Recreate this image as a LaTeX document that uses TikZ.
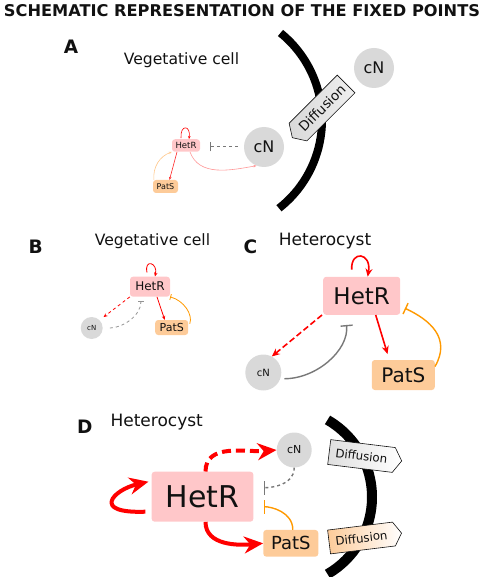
\documentclass[tikz,border=0pt]{standalone}
\usepackage{fontspec}
\setmainfont{DejaVu Sans}
\usetikzlibrary{positioning,arrows.meta,shapes.symbols}
\definecolor{ink}{RGB}{17,17,17}
\definecolor{hetpink}{RGB}{255,199,201}
\definecolor{patorange}{RGB}{253,203,153}
\definecolor{cngray}{RGB}{217,217,217}
\definecolor{actred}{RGB}{255,0,0}
\definecolor{fadered}{RGB}{255,150,150}
\definecolor{inhorange}{RGB}{255,153,0}
\definecolor{fadeorange}{RGB}{255,200,140}
\definecolor{inhgray}{RGB}{120,120,120}
\newcommand{\fsz}[1]{\fontsize{#1}{#1}\selectfont}
\tikzset{
  panel/.style={anchor=base, font=\fsz{18.5}\bfseries, text=ink},
  cellname/.style={anchor=base, text=ink},
  hetbox/.style={fill=hetpink, rounded corners=3pt, inner sep=0pt, text=ink},
  patbox/.style={fill=patorange, rounded corners=3pt, inner sep=0pt, text=ink},
  cnode/.style={circle, fill=cngray, inner sep=0pt, text=ink},
  diffbox/.style={signal, draw=ink, line width=0.6pt, signal pointer angle=115,
                  inner sep=1pt, text=ink},
  membrane/.style={draw=black, line cap=butt},
  actA/.style={-{Stealth[length=3pt,width=2.5pt]}, line width=0.6pt},
  inhA/.style={-{Bar[width=9pt]}, line width=1pt, dashed, draw=inhgray},
  actB/.style={-{Stealth[length=4pt,width=3.5pt]}, line width=0.8pt, draw=actred},
  inhB/.style={-{Bar[width=6pt]}, line width=0.8pt},
  actC/.style={-{Stealth[length=8pt,width=7pt]}, line width=1.6pt, draw=actred},
  inhC/.style={-{Bar[width=12pt]}, line width=1.4pt},
  actD/.style={-{Stealth[length=19pt,width=17pt]}, line width=4pt, draw=actred},
  inhD/.style={-{Bar[width=14pt]}, line width=1.4pt},
}

\begin{document}
\begin{tikzpicture}[x=1pt,y=1pt]
  \useasboundingbox (0,0) rectangle (484,-577);

  \node[anchor=base, font=\fsz{16.2}\bfseries, text=ink] (title) at (242,-16.7)
    {SCHEMATIC REPRESENTATION OF THE FIXED POINTS};

  % panel A: vegetative cell next to the membrane
  \node[panel] (labA) at (71,-54) {A};
  \node[cellname, font=\fsz{15.6}] (vegA) at (181.5,-65) {Vegetative cell};
  \draw[membrane, line width=8pt] (210,-120) ++(51:112) arc[start angle=51, end angle=-52, radius=112];
  \node[diffbox, rotate=45, signal to=west, minimum width=76pt, minimum height=25pt,
        font=\fsz{13.5}, left color=gray!30, right color=gray!12] (difA) at (322,-108) {Diffusion};
  \node[cnode, minimum size=40pt, font=\fsz{16}] (cnAout) at (374,-68) {cN};
  \node[cnode, minimum size=40pt, font=\fsz{16}] (cnA) at (264,-147) {cN};
  \node[hetbox, minimum width=28pt, minimum height=12.5pt, font=\fsz{8.5}] (hetA) at (186,-145.5) {HetR};
  \node[patbox, minimum width=25pt, minimum height=13pt, font=\fsz{8}] (patA) at (165.5,-186.5) {PatS};

  \draw[actA, draw=actred] ([xshift=-5pt,yshift=1pt]hetA.north) .. controls +(-1,14) and +(2,14) .. ([xshift=3pt]hetA.north);
  \draw[actA, draw=actred!85] ([xshift=-9pt]hetA.south) -- ([xshift=4pt]patA.north);
  \draw[actA, draw=fadeorange] (patA.150) to[out=95, in=200] (hetA.south west);
  \draw[actA, draw=fadered] ([xshift=4pt]hetA.south) to[out=-70, in=190] (cnA.-112);
  \draw[inhA, shorten <=6pt, shorten >=10pt] (cnA.west) -- (cnA.west -| hetA.east);

  % panel B: vegetative cell fixed point
  \node[panel] (labB) at (35.7,-253) {B};
  \node[cellname, font=\fsz{15.6}] (vegB) at (152.5,-245.7) {Vegetative cell};
  \node[hetbox, minimum width=40pt, minimum height=20pt, font=\fsz{12}] (hetB) at (150,-286.7) {HetR};
  \node[patbox, minimum width=33pt, minimum height=15pt, font=\fsz{11}] (patB) at (171.7,-327.5) {PatS};
  \node[cnode, minimum size=22pt, font=\fsz{7}] (cnB) at (91.7,-328) {cN};

  \draw[actB] ([shift={(-3pt,4pt)}]hetB.north) .. controls +(-3,14) and +(3,14) .. ([xshift=5pt]hetB.north);
  \draw[actB, dashed, shorten >=5pt] (hetB.south west) -- (cnB.45);
  \draw[actB] ([xshift=7pt]hetB.south) -- ([xshift=-7pt]patB.north);
  \draw[inhB, draw=inhgray!80, dashed, shorten <=7pt, shorten >=4pt] (cnB.east) to[out=0, in=-90] ([xshift=-9pt]hetB.south);
  \draw[inhB, draw=inhorange, shorten <=4pt] (patB.east) to[out=70, in=-15] (hetB.south east);

  % panel C: heterocyst fixed point
  \node[panel] (labC) at (250.5,-253) {C};
  \node[cellname, font=\fsz{17}] (hcyC) at (325,-245.7) {Heterocyst};
  \node[hetbox, minimum width=77pt, minimum height=38pt, font=\fsz{23}] (hetC) at (361.7,-295.8) {HetR};
  \node[cnode, minimum size=36pt, font=\fsz{10}] (cnC) at (263.3,-372.5) {cN};
  \node[patbox, minimum width=63pt, minimum height=30pt, font=\fsz{20}] (patC) at (403.3,-375) {PatS};

  \draw[actC] ([shift={(-10pt,7pt)}]hetC.north) .. controls +(-1,20) and +(4,24) .. ([xshift=6pt]hetC.north);
  \draw[actC, dashed, dash pattern=on 6pt off 3pt] ([xshift=-1pt]hetC.south west) -- (cnC.62);
  \draw[actC, shorten >=6pt] ([xshift=14pt]hetC.south) -- ([xshift=-14pt]patC.north);
  \draw[inhC, draw=inhgray, shorten <=4pt, shorten >=10pt] (cnC.-20) to[out=0, in=-85] ([xshift=-16pt]hetC.south);
  \draw[inhC, draw=inhorange, shorten >=5pt] (patC.15) to[out=60, in=-25, looseness=1.2] (hetC.-15);

  % panel D: heterocyst with diffusion of both inhibitors
  \node[panel] (labD) at (84.7,-433) {D};
  \node[cellname, font=\fsz{17}] (hcyD) at (156.7,-426.7) {Heterocyst};
  \draw[membrane, line width=10pt] (283,-497) ++(60:89) arc[start angle=60, end angle=-60, radius=89];
  \node[diffbox, rotate=-7, signal to=east, minimum width=73pt, minimum height=25pt,
        font=\fsz{11.8}, left color=gray!25, right color=white] (difD1) at (361.5,-456) {Diffusion};
  \node[diffbox, rotate=7, signal to=east, minimum width=73pt, minimum height=24pt,
        font=\fsz{11.8}, left color=patorange, right color=white] (difD2) at (361.5,-538) {Diffusion};
  \node[hetbox, minimum width=101.7pt, minimum height=50pt, font=\fsz{30}] (hetD) at (202.5,-496.7) {HetR};
  \node[cnode, minimum size=35pt, font=\fsz{11}] (cnD) at (294.2,-450) {cN};
  \node[patbox, minimum width=55pt, minimum height=26.7pt, font=\fsz{18}] (patD) at (290.8,-543.3) {PatS};

  \draw[actD, dash pattern=on 9pt off 5pt] ([xshift=3pt]hetD.north) to[out=90, in=185] (cnD.west);
  \draw[actD] ([shift={(-6pt,-15pt)}]hetD.west) .. controls +(-55,-2) and +(-35,-8) .. ([shift={(-3pt,15pt)}]hetD.west);
  \draw[actD] ([xshift=3pt]hetD.south) to[out=-90, in=185] (patD.west);
  \draw[inhD, draw=inhgray, dashed, shorten >=10pt] (cnD.south) to[out=-90, in=0] ([yshift=9pt]hetD.east);
  \draw[inhD, draw=inhorange, shorten >=10pt] ([xshift=2pt]patD.north) to[out=90, in=0] ([yshift=-10pt]hetD.east);
\end{tikzpicture}
\end{document}
